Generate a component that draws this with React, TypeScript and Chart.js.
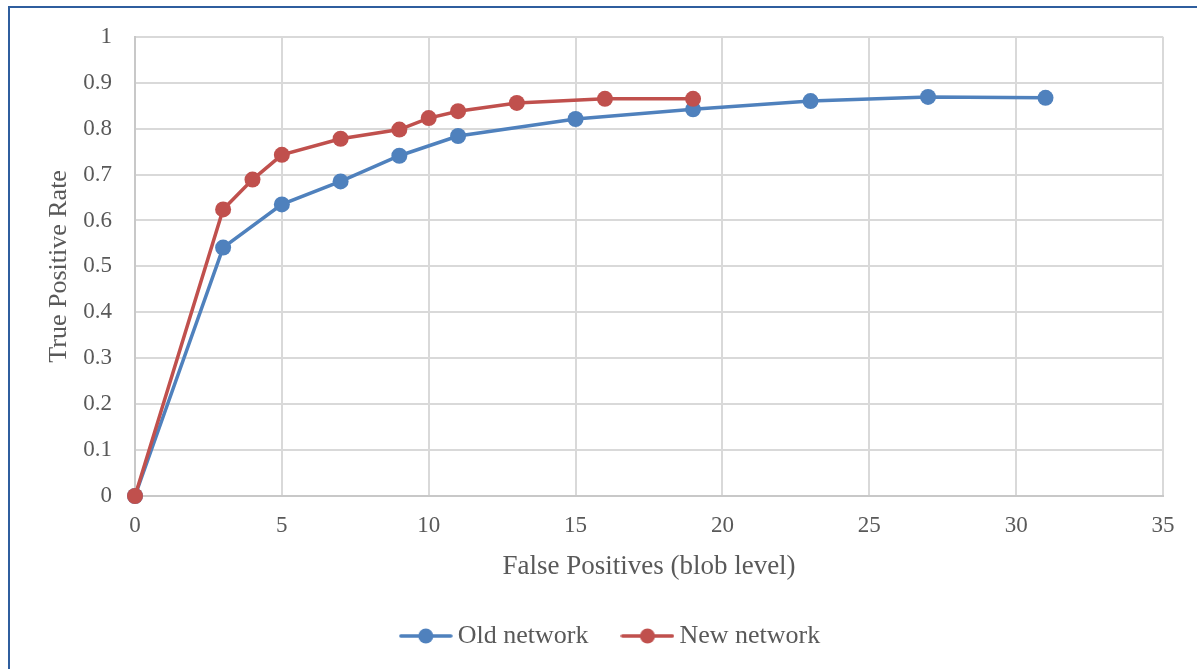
import React, { useEffect, useRef } from "react";
import { Chart, registerables } from "chart.js";

Chart.register(...registerables);

const oldX = [0, 3, 5, 7, 9, 11, 15, 19, 23, 27, 31];
const oldY = [0, 0.541, 0.635, 0.685, 0.741, 0.784, 0.821, 0.842, 0.86, 0.869, 0.867];
const newX = [0, 3, 4, 5, 7, 9, 10, 11, 13, 16, 19];
const newY = [0, 0.624, 0.689, 0.743, 0.778, 0.798, 0.823, 0.838, 0.856, 0.865, 0.865];
const seriesNames = ["Old network", "New network"];
const seriesColors = ["#4F81BD", "#C0504D"];
const xTitle = "False Positives (blob level)";
const yTitle = "True Positive Rate";

const FONT = "'Liberation Serif', 'Times New Roman', serif";
const TEXT = "#595959";

function legendImage(color: string): HTMLCanvasElement {
  const c = document.createElement("canvas");
  c.width = 54;
  c.height = 18;
  const ctx = c.getContext("2d")!;
  ctx.strokeStyle = color;
  ctx.lineWidth = 3.5;
  ctx.lineCap = "round";
  ctx.beginPath();
  ctx.moveTo(2, 9);
  ctx.lineTo(52, 9);
  ctx.stroke();
  ctx.fillStyle = color;
  ctx.beginPath();
  ctx.arc(27, 9, 7.5, 0, Math.PI * 2);
  ctx.fill();
  return c;
}

export default function App() {
  const ref = useRef<HTMLCanvasElement>(null);
  useEffect(() => {
    if (!ref.current) return;
    const imgs = seriesColors.map(legendImage);
    const mk = (xs: number[], ys: number[]) => xs.map((x, i) => ({ x, y: ys[i] }));
    const ds = (i: number, xs: number[], ys: number[], order: number) => ({
      label: seriesNames[i],
      data: mk(xs, ys),
      borderColor: seriesColors[i],
      backgroundColor: seriesColors[i],
      borderWidth: 3.5,
      pointRadius: 8,
      pointBorderWidth: 0,
      pointBackgroundColor: seriesColors[i],
      tension: 0,
      order,
      clip: false as any,
    });
    const chart = new Chart(ref.current, {
      type: "line",
      data: {
        datasets: [ds(0, oldX, oldY, 1), ds(1, newX, newY, 0)],
      },
      options: {
        responsive: false,
        animation: false,
        layout: { padding: { top: 36, right: 0, left: 30, bottom: 10 } },
        scales: {
          x: {
            type: "linear",
            min: 0,
            max: 35,
            ticks: { stepSize: 5, color: TEXT, font: { family: FONT, size: 23 }, padding: 16 },
            grid: { color: "#D9D9D9", lineWidth: 2, drawTicks: false },
            border: { color: "#C8C8C8", width: 2 },
            title: {
              display: true,
              text: xTitle,
              color: TEXT,
              font: { family: FONT, size: 27 },
              padding: { top: 0, bottom: 0 },
            },
            afterFit: (s: any) => {
              s.height = 87;
            },
          },
          y: {
            type: "linear",
            min: 0,
            max: 1,
            ticks: {
              stepSize: 0.1,
              color: TEXT,
              font: { family: FONT, size: 23 },
              padding: 23,
              callback: (v: any) => String(Math.round(Number(v) * 10) / 10),
            },
            grid: { color: "#D9D9D9", lineWidth: 2, drawTicks: false },
            border: { color: "#C8C8C8", width: 2 },
            title: {
              display: true,
              text: yTitle,
              color: TEXT,
              font: { family: FONT, size: 26 },
              padding: { top: 14, bottom: 0 },
            },
            afterFit: (s: any) => {
              s.width = 105;
            },
          },
          y2: {
            type: "linear",
            position: "right",
            display: true,
            grid: { display: false, drawTicks: false },
            ticks: { display: false },
            border: { display: false },
            afterFit: (s: any) => {
              s.width = 34;
            },
          },
        },
        plugins: {
          tooltip: { enabled: false },
          legend: {
            position: "bottom",
            labels: {
              usePointStyle: true,
              pointStyleWidth: 38,
              padding: 40,
              color: TEXT,
              font: { family: FONT, size: 26 },
              sort: (a: any, b: any) => a.datasetIndex - b.datasetIndex,
              generateLabels: (ch: any) => {
                const items = Chart.defaults.plugins.legend.labels.generateLabels(ch);
                return items.map((it: any) => ({ ...it, pointStyle: imgs[it.datasetIndex] }));
              },
            },
          },
        },
      },
    });
    return () => chart.destroy();
  }, []);

  return (
    <div style={{ position: "fixed", left: 0, top: 0, width: 1197, height: 669, background: "#fff", overflow: "hidden" }}>
      <div
        style={{
          position: "absolute",
          left: 8,
          top: 6,
          right: -10,
          bottom: -10,
          borderTop: "2px solid #2F5E9E",
          borderLeft: "2px solid #2F5E9E",
        }}
      />
      <canvas ref={ref} width={1197} height={669} style={{ position: "absolute", left: 0, top: 0, display: "block" }} />
    </div>
  );
}
